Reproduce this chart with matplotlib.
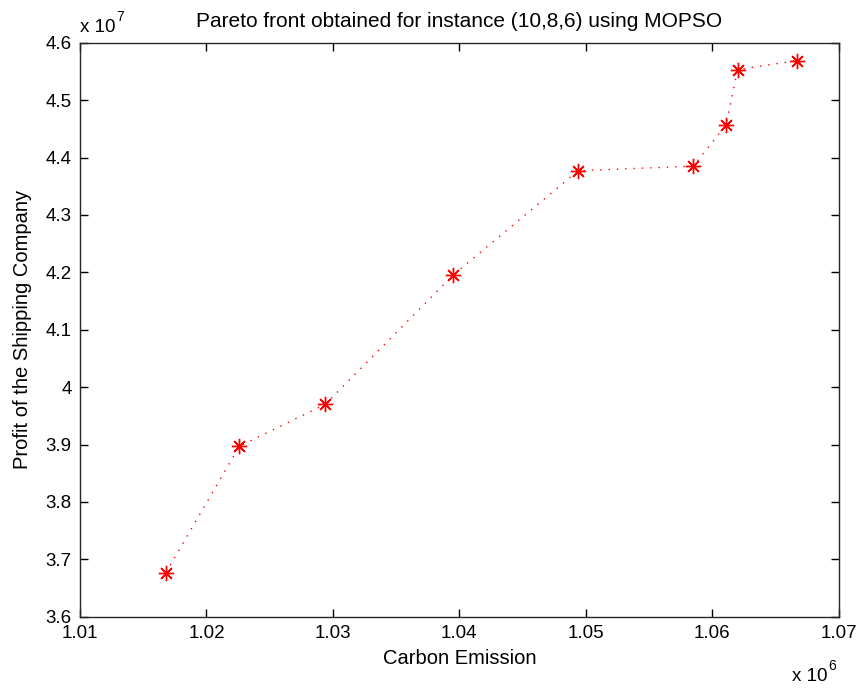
import matplotlib
matplotlib.use('Agg')
import matplotlib.pyplot as plt

# Pareto front points (x in 1e6, y in 1e7)
emission = [1.0168, 1.0226, 1.0294, 1.0395, 1.0494, 1.0585, 1.0611, 1.0620, 1.0667]
profit = [3.677, 3.897, 3.970, 4.195, 4.377, 4.385, 4.457, 4.553, 4.569]

xticks = [1.01, 1.02, 1.03, 1.04, 1.05, 1.06, 1.07]
yticks = [3.6, 3.7, 3.8, 3.9, 4.0, 4.1, 4.2, 4.3, 4.4, 4.5, 4.6]
ytick_labels = ['3.6', '3.7', '3.8', '3.9', '4', '4.1', '4.2', '4.3', '4.4', '4.5', '4.6']

plt.rcParams['font.family'] = ['Liberation Sans', 'DejaVu Sans']

fig = plt.figure(figsize=(8.61, 6.89), dpi=100)
ax = fig.add_axes([0.0929, 0.1049, 0.8812, 0.8331])

# matlab style ':r*'
ax.plot(emission, profit, color='red', linestyle=(0, (1, 5)), linewidth=1.0,
        marker=(8, 2, 0), markersize=11, markeredgewidth=1.0)

ax.set_xlim(1.01, 1.07)
ax.set_ylim(3.6, 4.6)
ax.set_xticks(xticks)
ax.set_xticklabels(['%.2f' % t for t in xticks])
ax.set_yticks(yticks)
ax.set_yticklabels(ytick_labels)
ax.tick_params(direction='in', top=True, right=True, labelsize=13.5,
               length=5.5, width=1.0)
ax.tick_params(axis='y', pad=6)
ax.tick_params(axis='x', pad=6)
for s in ax.spines.values():
    s.set_linewidth(1.0)
    s.set_color('#262626')

ax.set_title('Pareto front obtained for instance (10,8,6) using MOPSO',
             fontsize=15, pad=11)
ax.set_xlabel('Carbon Emission', fontsize=14.5, labelpad=5)
ax.set_ylabel('Profit of the Shipping Company', fontsize=14.5, labelpad=10)

# exponent labels, matlab style
fig.text(80 / 861, 1 - 32 / 689, 'x 10', fontsize=13.5, va='baseline', ha='left')
fig.text(116 / 861, 1 - 21 / 689, '7', fontsize=10, va='baseline', ha='left')
fig.text(792 / 861, 1 - 681 / 689, 'x 10', fontsize=13.5, va='baseline', ha='left')
fig.text(828 / 861, 1 - 670 / 689, '6', fontsize=10, va='baseline', ha='left')

fig.savefig('out.png', dpi=100)
